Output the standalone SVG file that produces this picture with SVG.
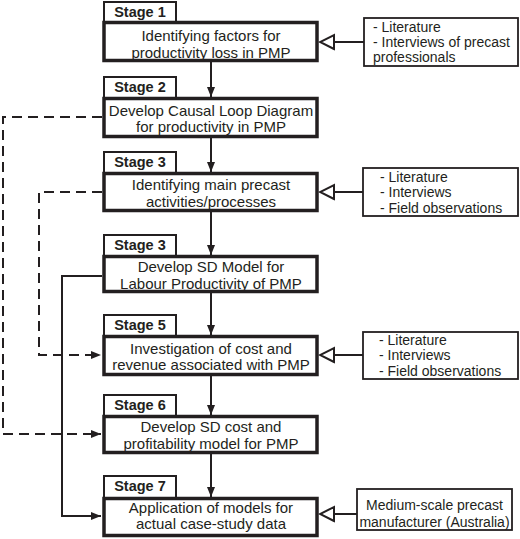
<svg xmlns="http://www.w3.org/2000/svg" width="520" height="539" viewBox="0 0 520 539">
<style>
.main{fill:#fff;stroke:#231f20;stroke-width:3.5}
.lbl{fill:#fff;stroke:#231f20;stroke-width:2}
.src{fill:#fff;stroke:#231f20;stroke-width:1.8}
.t{font-family:"Liberation Sans",Arial,sans-serif;font-size:15px;fill:#231f20;text-anchor:middle}
.s{font-family:"Liberation Sans",Arial,sans-serif;font-size:14.5px;font-weight:bold;fill:#231f20;text-anchor:middle}
.r{font-family:"Liberation Sans",Arial,sans-serif;font-size:14px;fill:#231f20}
.c{fill:none;stroke:#231f20;stroke-width:2}
.d{fill:none;stroke:#231f20;stroke-width:2;stroke-dasharray:10 6}
</style>
<defs>
<marker id="arr" markerUnits="userSpaceOnUse" markerWidth="10" markerHeight="8" refX="10" refY="4" orient="auto">
<path d="M0,0 L10,4 L0,8 z" fill="#231f20"/>
</marker>
<marker id="open" markerUnits="userSpaceOnUse" viewBox="-2 -2 18 18" markerWidth="18" markerHeight="18" refX="14" refY="7" orient="auto">
<path d="M0,0 L14,7 L0,14 z" fill="#fff" stroke="#231f20" stroke-width="2"/>
</marker>
</defs>
<g id="connectors">
<line class="c" x1="211" y1="62" x2="211" y2="97" marker-end="url(#arr)"/>
<line class="c" x1="211" y1="138" x2="211" y2="172" marker-end="url(#arr)"/>
<line class="c" x1="211" y1="212" x2="211" y2="255" marker-end="url(#arr)"/>
<line class="c" x1="211" y1="293" x2="211" y2="335" marker-end="url(#arr)"/>
<line class="c" x1="211" y1="376" x2="211" y2="415" marker-end="url(#arr)"/>
<line class="c" x1="211" y1="454" x2="211" y2="497" marker-end="url(#arr)"/>
<path class="d" d="M102,117 H3 V434 H101" marker-end="url(#arr)"/>
<path class="d" d="M102,192 H39 V355 H101" marker-end="url(#arr)"/>
<path class="c" d="M102,276 H62 V516 H101" marker-end="url(#arr)"/>
<line class="c" x1="364" y1="42" x2="320" y2="42" marker-end="url(#open)"/>
<line class="c" x1="363" y1="192" x2="320" y2="192" marker-end="url(#open)"/>
<line class="c" x1="363" y1="355" x2="320" y2="355" marker-end="url(#open)"/>
<line class="c" x1="357" y1="514" x2="320" y2="514" marker-end="url(#open)"/>
</g>
<g id="stage1">
<rect class="lbl" x="104" y="2" width="72" height="20"/>
<text class="s" x="140" y="17">Stage 1</text>
<rect class="main" x="104" y="22.5" width="213" height="38"/>
<text class="t" x="211" y="40.5">Identifying factors for</text>
<text class="t" x="211" y="57.5">productivity loss in PMP</text>
</g>
<g id="stage2">
<rect class="lbl" x="104" y="77" width="72" height="21"/>
<text class="s" x="140" y="92">Stage 2</text>
<rect class="main" x="104" y="98.5" width="213" height="38"/>
<text class="t" x="211" y="115.5">Develop Causal Loop Diagram</text>
<text class="t" x="211" y="131.5">for productivity in PMP</text>
</g>
<g id="stage3a">
<rect class="lbl" x="104" y="152" width="72" height="21"/>
<text class="s" x="140" y="167">Stage 3</text>
<rect class="main" x="104" y="173.5" width="213" height="37"/>
<text class="t" x="211" y="189.5">Identifying main precast</text>
<text class="t" x="211" y="206.5">activities/processes</text>
</g>
<g id="stage3b">
<rect class="lbl" x="104" y="235" width="72" height="21"/>
<text class="s" x="140" y="250">Stage 3</text>
<rect class="main" x="104" y="256.5" width="213" height="35"/>
<text class="t" x="211" y="272">Develop SD Model for</text>
<text class="t" x="211" y="289">Labour Productivity of PMP</text>
</g>
<g id="stage5">
<rect class="lbl" x="104" y="315" width="72" height="21"/>
<text class="s" x="140" y="330">Stage 5</text>
<rect class="main" x="104" y="336.5" width="213" height="38"/>
<text class="t" x="211" y="353.5">Investigation of cost and</text>
<text class="t" x="211" y="369.5">revenue associated with PMP</text>
</g>
<g id="stage6">
<rect class="lbl" x="104" y="395" width="72" height="21"/>
<text class="s" x="140" y="410">Stage 6</text>
<rect class="main" x="104" y="416.5" width="213" height="36"/>
<text class="t" x="211" y="432">Develop SD cost and</text>
<text class="t" x="211" y="448.5">profitability model for PMP</text>
</g>
<g id="stage7">
<rect class="lbl" x="104" y="476" width="72" height="22"/>
<text class="s" x="140" y="491">Stage 7</text>
<rect class="main" x="104" y="498.5" width="213" height="37"/>
<text class="t" x="211" y="512.5">Application of models for</text>
<text class="t" x="211" y="529">actual case-study data</text>
</g>
<g id="source1">
<rect class="src" x="364" y="18" width="154" height="48"/>
<text class="r" x="373" y="32">- Literature</text>
<text class="r" x="373" y="47">- Interviews of precast</text>
<text class="r" x="373" y="62">professionals</text>
</g>
<g id="source3">
<rect class="src" x="363" y="168" width="155" height="48"/>
<text class="r" x="380" y="182">- Literature</text>
<text class="r" x="380" y="197">- Interviews</text>
<text class="r" x="380" y="213">- Field observations</text>
</g>
<g id="source5">
<rect class="src" x="363" y="332" width="155" height="47"/>
<text class="r" x="379" y="345">- Literature</text>
<text class="r" x="379" y="360">- Interviews</text>
<text class="r" x="379" y="376">- Field observations</text>
</g>
<g id="source7">
<rect class="src" x="357" y="489" width="155" height="41"/>
<text class="r" x="434.5" y="510" text-anchor="middle">Medium-scale precast</text>
<text class="r" x="434.5" y="527" text-anchor="middle">manufacturer (Australia)</text>
</g>
</svg>
